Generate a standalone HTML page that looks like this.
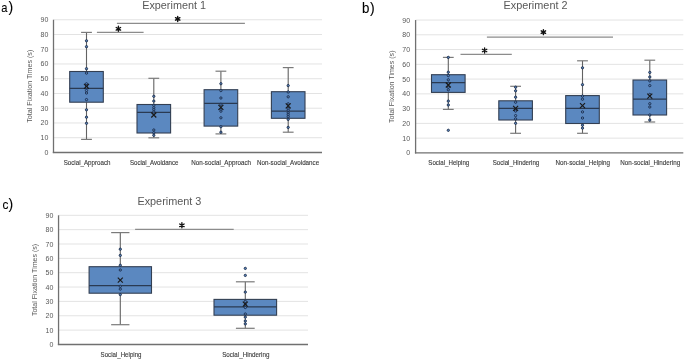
<!DOCTYPE html>
<html><head><meta charset="utf-8"><title>Experiments</title>
<style>html,body{margin:0;padding:0;background:#fff;width:685px;height:360px;overflow:hidden}svg{display:block;will-change:transform;filter:blur(0.3px)}text{font-family:"Liberation Sans", sans-serif}</style>
</head><body>
<svg width="685" height="360" viewBox="0 0 685 360" font-family='"Liberation Sans", sans-serif'>
<rect width="685" height="360" fill="#fff"/>
<line x1="53.5" y1="137.71" x2="322" y2="137.71" stroke="#e3e3e3" stroke-width="1"/>
<line x1="53.5" y1="122.96" x2="322" y2="122.96" stroke="#e3e3e3" stroke-width="1"/>
<line x1="53.5" y1="108.22" x2="322" y2="108.22" stroke="#e3e3e3" stroke-width="1"/>
<line x1="53.5" y1="93.47" x2="322" y2="93.47" stroke="#e3e3e3" stroke-width="1"/>
<line x1="53.5" y1="78.73" x2="322" y2="78.73" stroke="#e3e3e3" stroke-width="1"/>
<line x1="53.5" y1="63.98" x2="322" y2="63.98" stroke="#e3e3e3" stroke-width="1"/>
<line x1="53.5" y1="49.24" x2="322" y2="49.24" stroke="#e3e3e3" stroke-width="1"/>
<line x1="53.5" y1="34.49" x2="322" y2="34.49" stroke="#e3e3e3" stroke-width="1"/>
<line x1="53.5" y1="19.75" x2="322" y2="19.75" stroke="#e3e3e3" stroke-width="1"/>
<text x="48.30" y="154.95" text-anchor="end" font-size="7" fill="#585858">0</text>
<text x="48.30" y="140.21" text-anchor="end" font-size="7" fill="#585858">10</text>
<text x="48.30" y="125.46" text-anchor="end" font-size="7" fill="#585858">20</text>
<text x="48.30" y="110.72" text-anchor="end" font-size="7" fill="#585858">30</text>
<text x="48.30" y="95.97" text-anchor="end" font-size="7" fill="#585858">40</text>
<text x="48.30" y="81.23" text-anchor="end" font-size="7" fill="#585858">50</text>
<text x="48.30" y="66.48" text-anchor="end" font-size="7" fill="#585858">60</text>
<text x="48.30" y="51.74" text-anchor="end" font-size="7" fill="#585858">70</text>
<text x="48.30" y="36.99" text-anchor="end" font-size="7" fill="#585858">80</text>
<text x="48.30" y="22.25" text-anchor="end" font-size="7" fill="#585858">90</text>
<text transform="translate(32.20,86.20) rotate(-90)" x="0" y="0" text-anchor="middle" font-size="7.6" fill="#595959" textLength="73.00" lengthAdjust="spacingAndGlyphs">Total Fixation Times (s)</text>
<text x="174.10" y="8.70" text-anchor="middle" font-size="10.3" fill="#585858" textLength="63.80" lengthAdjust="spacingAndGlyphs">Experiment 1</text>
<text x="1.20" y="11.70" text-anchor="start" font-size="13.2" fill="#000" textLength="6.20" lengthAdjust="spacingAndGlyphs" stroke="#000" stroke-width="0.1">a</text>
<text x="8.60" y="11.70" text-anchor="start" font-size="14" fill="#000" stroke="#000" stroke-width="0.1">)</text>
<text x="87.10" y="164.80" text-anchor="middle" font-size="6.7" fill="#3a3a3a" textLength="46.80" lengthAdjust="spacingAndGlyphs" stroke="#3a3a3a" stroke-width="0.12">Social_Approach</text>
<text x="154.20" y="164.80" text-anchor="middle" font-size="6.7" fill="#3a3a3a" textLength="48.60" lengthAdjust="spacingAndGlyphs" stroke="#3a3a3a" stroke-width="0.12">Social_Avoidance</text>
<text x="221.15" y="164.80" text-anchor="middle" font-size="6.7" fill="#3a3a3a" textLength="59.90" lengthAdjust="spacingAndGlyphs" stroke="#3a3a3a" stroke-width="0.12">Non-social_Approach</text>
<text x="288.10" y="164.80" text-anchor="middle" font-size="6.7" fill="#3a3a3a" textLength="62.20" lengthAdjust="spacingAndGlyphs" stroke="#3a3a3a" stroke-width="0.12">Non-social_Avoidance</text>
<line x1="86.5" y1="32.4" x2="86.5" y2="71.5" stroke="#626262" stroke-width="1.1"/>
<line x1="86.5" y1="102.2" x2="86.5" y2="139.4" stroke="#626262" stroke-width="1.1"/>
<line x1="81.1" y1="32.4" x2="91.9" y2="32.4" stroke="#7a7a7a" stroke-width="1.2"/>
<line x1="81.1" y1="139.4" x2="91.9" y2="139.4" stroke="#7a7a7a" stroke-width="1.2"/>
<rect x="69.7" y="71.5" width="33.6" height="30.70" fill="#5b88c0" stroke="#333f52" stroke-width="1.1"/>
<line x1="69.7" y1="88.3" x2="103.3" y2="88.3" stroke="#2a3a52" stroke-width="1.3"/>
<circle cx="86.5" cy="40.8" r="1.15" fill="#5b88c0" stroke="#1a2a48" stroke-width="0.9"/>
<circle cx="86.5" cy="46.7" r="1.15" fill="#5b88c0" stroke="#1a2a48" stroke-width="0.9"/>
<circle cx="86.5" cy="68.7" r="1.15" fill="#5b88c0" stroke="#1a2a48" stroke-width="0.9"/>
<circle cx="86.5" cy="73.1" r="1.15" fill="#5b88c0" stroke="#1a2a48" stroke-width="0.9"/>
<circle cx="86.5" cy="83.8" r="1.15" fill="#5b88c0" stroke="#1a2a48" stroke-width="0.9"/>
<circle cx="86.5" cy="85.8" r="1.15" fill="#5b88c0" stroke="#1a2a48" stroke-width="0.9"/>
<circle cx="86.5" cy="87.6" r="1.15" fill="#5b88c0" stroke="#1a2a48" stroke-width="0.9"/>
<circle cx="86.5" cy="90.5" r="1.15" fill="#5b88c0" stroke="#1a2a48" stroke-width="0.9"/>
<circle cx="86.5" cy="93" r="1.15" fill="#5b88c0" stroke="#1a2a48" stroke-width="0.9"/>
<circle cx="86.5" cy="99.6" r="1.15" fill="#5b88c0" stroke="#1a2a48" stroke-width="0.9"/>
<circle cx="86.5" cy="109.8" r="1.15" fill="#5b88c0" stroke="#1a2a48" stroke-width="0.9"/>
<circle cx="86.5" cy="117.2" r="1.15" fill="#5b88c0" stroke="#1a2a48" stroke-width="0.9"/>
<circle cx="86.5" cy="123.3" r="1.15" fill="#5b88c0" stroke="#1a2a48" stroke-width="0.9"/>
<path d="M84.0 83.9L89.0 88.9M84.0 88.9L89.0 83.9" stroke="#1a1a1a" stroke-width="1.15"/>
<line x1="153.8" y1="78.3" x2="153.8" y2="104.5" stroke="#626262" stroke-width="1.1"/>
<line x1="153.8" y1="133" x2="153.8" y2="137.8" stroke="#626262" stroke-width="1.1"/>
<line x1="148.4" y1="78.3" x2="159.20000000000002" y2="78.3" stroke="#7a7a7a" stroke-width="1.2"/>
<line x1="148.4" y1="137.8" x2="159.20000000000002" y2="137.8" stroke="#7a7a7a" stroke-width="1.2"/>
<rect x="137.0" y="104.5" width="33.6" height="28.50" fill="#5b88c0" stroke="#333f52" stroke-width="1.1"/>
<line x1="137.0" y1="112.4" x2="170.60000000000002" y2="112.4" stroke="#2a3a52" stroke-width="1.3"/>
<circle cx="153.8" cy="96.3" r="1.15" fill="#5b88c0" stroke="#1a2a48" stroke-width="0.9"/>
<circle cx="153.8" cy="101.1" r="1.15" fill="#5b88c0" stroke="#1a2a48" stroke-width="0.9"/>
<circle cx="153.8" cy="105.3" r="1.15" fill="#5b88c0" stroke="#1a2a48" stroke-width="0.9"/>
<circle cx="153.8" cy="107.7" r="1.15" fill="#5b88c0" stroke="#1a2a48" stroke-width="0.9"/>
<circle cx="153.8" cy="109.7" r="1.15" fill="#5b88c0" stroke="#1a2a48" stroke-width="0.9"/>
<circle cx="153.8" cy="112" r="1.15" fill="#5b88c0" stroke="#1a2a48" stroke-width="0.9"/>
<circle cx="153.8" cy="130" r="1.15" fill="#5b88c0" stroke="#1a2a48" stroke-width="0.9"/>
<circle cx="153.8" cy="132.7" r="1.15" fill="#5b88c0" stroke="#1a2a48" stroke-width="0.9"/>
<circle cx="153.8" cy="135.3" r="1.15" fill="#5b88c0" stroke="#1a2a48" stroke-width="0.9"/>
<path d="M151.3 112.5L156.3 117.5M151.3 117.5L156.3 112.5" stroke="#1a1a1a" stroke-width="1.15"/>
<line x1="220.9" y1="71.2" x2="220.9" y2="89.7" stroke="#626262" stroke-width="1.1"/>
<line x1="220.9" y1="126.1" x2="220.9" y2="133.9" stroke="#626262" stroke-width="1.1"/>
<line x1="215.5" y1="71.2" x2="226.3" y2="71.2" stroke="#7a7a7a" stroke-width="1.2"/>
<line x1="215.5" y1="133.9" x2="226.3" y2="133.9" stroke="#7a7a7a" stroke-width="1.2"/>
<rect x="204.1" y="89.7" width="33.6" height="36.40" fill="#5b88c0" stroke="#333f52" stroke-width="1.1"/>
<line x1="204.1" y1="103.3" x2="237.70000000000002" y2="103.3" stroke="#2a3a52" stroke-width="1.3"/>
<circle cx="220.9" cy="83.7" r="1.15" fill="#5b88c0" stroke="#1a2a48" stroke-width="0.9"/>
<circle cx="220.9" cy="90.6" r="1.15" fill="#5b88c0" stroke="#1a2a48" stroke-width="0.9"/>
<circle cx="220.9" cy="98" r="1.15" fill="#5b88c0" stroke="#1a2a48" stroke-width="0.9"/>
<circle cx="220.9" cy="104.3" r="1.15" fill="#5b88c0" stroke="#1a2a48" stroke-width="0.9"/>
<circle cx="220.9" cy="109.4" r="1.15" fill="#5b88c0" stroke="#1a2a48" stroke-width="0.9"/>
<circle cx="220.9" cy="111.2" r="1.15" fill="#5b88c0" stroke="#1a2a48" stroke-width="0.9"/>
<circle cx="220.9" cy="117.8" r="1.15" fill="#5b88c0" stroke="#1a2a48" stroke-width="0.9"/>
<circle cx="220.9" cy="126.7" r="1.15" fill="#5b88c0" stroke="#1a2a48" stroke-width="0.9"/>
<circle cx="220.9" cy="132.2" r="1.15" fill="#5b88c0" stroke="#1a2a48" stroke-width="0.9"/>
<path d="M218.4 104.8L223.4 109.8M218.4 109.8L223.4 104.8" stroke="#1a1a1a" stroke-width="1.15"/>
<line x1="288.2" y1="67.6" x2="288.2" y2="91.7" stroke="#626262" stroke-width="1.1"/>
<line x1="288.2" y1="118.3" x2="288.2" y2="132.2" stroke="#626262" stroke-width="1.1"/>
<line x1="282.8" y1="67.6" x2="293.59999999999997" y2="67.6" stroke="#7a7a7a" stroke-width="1.2"/>
<line x1="282.8" y1="132.2" x2="293.59999999999997" y2="132.2" stroke="#7a7a7a" stroke-width="1.2"/>
<rect x="271.4" y="91.7" width="33.6" height="26.60" fill="#5b88c0" stroke="#333f52" stroke-width="1.1"/>
<line x1="271.4" y1="111.1" x2="305.0" y2="111.1" stroke="#2a3a52" stroke-width="1.3"/>
<circle cx="288.2" cy="85.6" r="1.15" fill="#5b88c0" stroke="#1a2a48" stroke-width="0.9"/>
<circle cx="288.2" cy="92" r="1.15" fill="#5b88c0" stroke="#1a2a48" stroke-width="0.9"/>
<circle cx="288.2" cy="96.8" r="1.15" fill="#5b88c0" stroke="#1a2a48" stroke-width="0.9"/>
<circle cx="288.2" cy="103.8" r="1.15" fill="#5b88c0" stroke="#1a2a48" stroke-width="0.9"/>
<circle cx="288.2" cy="108.5" r="1.15" fill="#5b88c0" stroke="#1a2a48" stroke-width="0.9"/>
<circle cx="288.2" cy="110.2" r="1.15" fill="#5b88c0" stroke="#1a2a48" stroke-width="0.9"/>
<circle cx="288.2" cy="112.8" r="1.15" fill="#5b88c0" stroke="#1a2a48" stroke-width="0.9"/>
<circle cx="288.2" cy="114.7" r="1.15" fill="#5b88c0" stroke="#1a2a48" stroke-width="0.9"/>
<circle cx="288.2" cy="116.7" r="1.15" fill="#5b88c0" stroke="#1a2a48" stroke-width="0.9"/>
<circle cx="288.2" cy="119.4" r="1.15" fill="#5b88c0" stroke="#1a2a48" stroke-width="0.9"/>
<circle cx="288.2" cy="127.4" r="1.15" fill="#5b88c0" stroke="#1a2a48" stroke-width="0.9"/>
<path d="M285.7 103.4L290.7 108.4M285.7 108.4L290.7 103.4" stroke="#1a1a1a" stroke-width="1.15"/>
<line x1="53.5" y1="19.75" x2="53.5" y2="153.04999999999998" stroke="#707070" stroke-width="1.3"/>
<line x1="52.8" y1="152.45" x2="322" y2="152.45" stroke="#707070" stroke-width="1.4"/>
<line x1="96.9" y1="32.4" x2="143.6" y2="32.4" stroke="#8c8c8c" stroke-width="1.2"/>
<path d="M118.40 26.25L118.40 31.35M116.19 27.53L120.61 30.07M120.61 27.53L116.19 30.07" stroke="#111" stroke-width="1.35" stroke-linecap="round" fill="none"/>
<line x1="116.9" y1="23.3" x2="244.9" y2="23.3" stroke="#8c8c8c" stroke-width="1.2"/>
<path d="M177.70 16.35L177.70 21.45M175.49 17.62L179.91 20.17M179.91 17.62L175.49 20.17" stroke="#111" stroke-width="1.35" stroke-linecap="round" fill="none"/>
<line x1="415.6" y1="138.14" x2="683.3" y2="138.14" stroke="#e3e3e3" stroke-width="1"/>
<line x1="415.6" y1="123.38" x2="683.3" y2="123.38" stroke="#e3e3e3" stroke-width="1"/>
<line x1="415.6" y1="108.62" x2="683.3" y2="108.62" stroke="#e3e3e3" stroke-width="1"/>
<line x1="415.6" y1="93.86" x2="683.3" y2="93.86" stroke="#e3e3e3" stroke-width="1"/>
<line x1="415.6" y1="79.09" x2="683.3" y2="79.09" stroke="#e3e3e3" stroke-width="1"/>
<line x1="415.6" y1="64.33" x2="683.3" y2="64.33" stroke="#e3e3e3" stroke-width="1"/>
<line x1="415.6" y1="49.57" x2="683.3" y2="49.57" stroke="#e3e3e3" stroke-width="1"/>
<line x1="415.6" y1="34.81" x2="683.3" y2="34.81" stroke="#e3e3e3" stroke-width="1"/>
<line x1="415.6" y1="20.05" x2="683.3" y2="20.05" stroke="#e3e3e3" stroke-width="1"/>
<text x="410.10" y="155.40" text-anchor="end" font-size="7" fill="#585858">0</text>
<text x="410.10" y="140.64" text-anchor="end" font-size="7" fill="#585858">10</text>
<text x="410.10" y="125.88" text-anchor="end" font-size="7" fill="#585858">20</text>
<text x="410.10" y="111.12" text-anchor="end" font-size="7" fill="#585858">30</text>
<text x="410.10" y="96.36" text-anchor="end" font-size="7" fill="#585858">40</text>
<text x="410.10" y="81.59" text-anchor="end" font-size="7" fill="#585858">50</text>
<text x="410.10" y="66.83" text-anchor="end" font-size="7" fill="#585858">60</text>
<text x="410.10" y="52.07" text-anchor="end" font-size="7" fill="#585858">70</text>
<text x="410.10" y="37.31" text-anchor="end" font-size="7" fill="#585858">80</text>
<text x="410.10" y="22.55" text-anchor="end" font-size="7" fill="#585858">90</text>
<text transform="translate(394.00,86.75) rotate(-90)" x="0" y="0" text-anchor="middle" font-size="7.6" fill="#595959" textLength="72.50" lengthAdjust="spacingAndGlyphs">Total Fixation Times (s)</text>
<text x="535.50" y="8.80" text-anchor="middle" font-size="10.3" fill="#585858" textLength="64.00" lengthAdjust="spacingAndGlyphs">Experiment 2</text>
<text x="362.00" y="12.70" text-anchor="start" font-size="14" fill="#000" textLength="7.40" lengthAdjust="spacingAndGlyphs" stroke="#000" stroke-width="0.1">b</text>
<text x="369.90" y="12.70" text-anchor="start" font-size="14" fill="#000" stroke="#000" stroke-width="0.1">)</text>
<text x="448.80" y="164.90" text-anchor="middle" font-size="6.7" fill="#3a3a3a" textLength="41.00" lengthAdjust="spacingAndGlyphs" stroke="#3a3a3a" stroke-width="0.12">Social_Helping</text>
<text x="516.00" y="164.90" text-anchor="middle" font-size="6.7" fill="#3a3a3a" textLength="46.60" lengthAdjust="spacingAndGlyphs" stroke="#3a3a3a" stroke-width="0.12">Social_Hindering</text>
<text x="582.80" y="164.90" text-anchor="middle" font-size="6.7" fill="#3a3a3a" textLength="54.40" lengthAdjust="spacingAndGlyphs" stroke="#3a3a3a" stroke-width="0.12">Non-social_Helping</text>
<text x="650.30" y="164.90" text-anchor="middle" font-size="6.7" fill="#3a3a3a" textLength="60.00" lengthAdjust="spacingAndGlyphs" stroke="#3a3a3a" stroke-width="0.12">Non-social_Hindering</text>
<line x1="448.3" y1="57.4" x2="448.3" y2="74.7" stroke="#626262" stroke-width="1.1"/>
<line x1="448.3" y1="92.4" x2="448.3" y2="109.4" stroke="#626262" stroke-width="1.1"/>
<line x1="442.90000000000003" y1="57.4" x2="453.7" y2="57.4" stroke="#7a7a7a" stroke-width="1.2"/>
<line x1="442.90000000000003" y1="109.4" x2="453.7" y2="109.4" stroke="#7a7a7a" stroke-width="1.2"/>
<rect x="431.5" y="74.7" width="33.6" height="17.70" fill="#5b88c0" stroke="#333f52" stroke-width="1.1"/>
<line x1="431.5" y1="82.6" x2="465.1" y2="82.6" stroke="#2a3a52" stroke-width="1.3"/>
<circle cx="448.3" cy="57.4" r="1.15" fill="#5b88c0" stroke="#1a2a48" stroke-width="0.9"/>
<circle cx="448.3" cy="72.2" r="1.15" fill="#5b88c0" stroke="#1a2a48" stroke-width="0.9"/>
<circle cx="448.3" cy="75.6" r="1.15" fill="#5b88c0" stroke="#1a2a48" stroke-width="0.9"/>
<circle cx="448.3" cy="79.8" r="1.15" fill="#5b88c0" stroke="#1a2a48" stroke-width="0.9"/>
<circle cx="448.3" cy="83.3" r="1.15" fill="#5b88c0" stroke="#1a2a48" stroke-width="0.9"/>
<circle cx="448.3" cy="87.2" r="1.15" fill="#5b88c0" stroke="#1a2a48" stroke-width="0.9"/>
<circle cx="448.3" cy="89.8" r="1.15" fill="#5b88c0" stroke="#1a2a48" stroke-width="0.9"/>
<circle cx="448.3" cy="101.1" r="1.15" fill="#5b88c0" stroke="#1a2a48" stroke-width="0.9"/>
<circle cx="448.3" cy="105" r="1.15" fill="#5b88c0" stroke="#1a2a48" stroke-width="0.9"/>
<circle cx="448.3" cy="130.3" r="1.15" fill="#5b88c0" stroke="#1a2a48" stroke-width="0.9"/>
<path d="M445.8 82.5L450.8 87.5M445.8 87.5L450.8 82.5" stroke="#1a1a1a" stroke-width="1.15"/>
<line x1="515.6" y1="86.3" x2="515.6" y2="100.8" stroke="#626262" stroke-width="1.1"/>
<line x1="515.6" y1="120" x2="515.6" y2="133.3" stroke="#626262" stroke-width="1.1"/>
<line x1="510.20000000000005" y1="86.3" x2="521.0" y2="86.3" stroke="#7a7a7a" stroke-width="1.2"/>
<line x1="510.20000000000005" y1="133.3" x2="521.0" y2="133.3" stroke="#7a7a7a" stroke-width="1.2"/>
<rect x="498.8" y="100.8" width="33.6" height="19.20" fill="#5b88c0" stroke="#333f52" stroke-width="1.1"/>
<line x1="498.8" y1="108.3" x2="532.4" y2="108.3" stroke="#2a3a52" stroke-width="1.3"/>
<circle cx="515.6" cy="87.2" r="1.15" fill="#5b88c0" stroke="#1a2a48" stroke-width="0.9"/>
<circle cx="515.6" cy="90.8" r="1.15" fill="#5b88c0" stroke="#1a2a48" stroke-width="0.9"/>
<circle cx="515.6" cy="97.2" r="1.15" fill="#5b88c0" stroke="#1a2a48" stroke-width="0.9"/>
<circle cx="515.6" cy="102.2" r="1.15" fill="#5b88c0" stroke="#1a2a48" stroke-width="0.9"/>
<circle cx="515.6" cy="110" r="1.15" fill="#5b88c0" stroke="#1a2a48" stroke-width="0.9"/>
<circle cx="515.6" cy="111.1" r="1.15" fill="#5b88c0" stroke="#1a2a48" stroke-width="0.9"/>
<circle cx="515.6" cy="115.6" r="1.15" fill="#5b88c0" stroke="#1a2a48" stroke-width="0.9"/>
<circle cx="515.6" cy="118.9" r="1.15" fill="#5b88c0" stroke="#1a2a48" stroke-width="0.9"/>
<circle cx="515.6" cy="123.3" r="1.15" fill="#5b88c0" stroke="#1a2a48" stroke-width="0.9"/>
<path d="M513.1 105.8L518.1 110.8M513.1 110.8L518.1 105.8" stroke="#1a1a1a" stroke-width="1.15"/>
<line x1="582.5" y1="60.8" x2="582.5" y2="95.6" stroke="#626262" stroke-width="1.1"/>
<line x1="582.5" y1="123.5" x2="582.5" y2="133.3" stroke="#626262" stroke-width="1.1"/>
<line x1="577.1" y1="60.8" x2="587.9" y2="60.8" stroke="#7a7a7a" stroke-width="1.2"/>
<line x1="577.1" y1="133.3" x2="587.9" y2="133.3" stroke="#7a7a7a" stroke-width="1.2"/>
<rect x="565.7" y="95.6" width="33.6" height="27.90" fill="#5b88c0" stroke="#333f52" stroke-width="1.1"/>
<line x1="565.7" y1="108.3" x2="599.3" y2="108.3" stroke="#2a3a52" stroke-width="1.3"/>
<circle cx="582.5" cy="67.8" r="1.15" fill="#5b88c0" stroke="#1a2a48" stroke-width="0.9"/>
<circle cx="582.5" cy="84.7" r="1.15" fill="#5b88c0" stroke="#1a2a48" stroke-width="0.9"/>
<circle cx="582.5" cy="96.1" r="1.15" fill="#5b88c0" stroke="#1a2a48" stroke-width="0.9"/>
<circle cx="582.5" cy="99.2" r="1.15" fill="#5b88c0" stroke="#1a2a48" stroke-width="0.9"/>
<circle cx="582.5" cy="111.9" r="1.15" fill="#5b88c0" stroke="#1a2a48" stroke-width="0.9"/>
<circle cx="582.5" cy="118" r="1.15" fill="#5b88c0" stroke="#1a2a48" stroke-width="0.9"/>
<circle cx="582.5" cy="125.2" r="1.15" fill="#5b88c0" stroke="#1a2a48" stroke-width="0.9"/>
<circle cx="582.5" cy="128.1" r="1.15" fill="#5b88c0" stroke="#1a2a48" stroke-width="0.9"/>
<path d="M580.0 103.1L585.0 108.1M580.0 108.1L585.0 103.1" stroke="#1a1a1a" stroke-width="1.15"/>
<line x1="649.8" y1="60.2" x2="649.8" y2="80" stroke="#626262" stroke-width="1.1"/>
<line x1="649.8" y1="115" x2="649.8" y2="122" stroke="#626262" stroke-width="1.1"/>
<line x1="644.4" y1="60.2" x2="655.1999999999999" y2="60.2" stroke="#7a7a7a" stroke-width="1.2"/>
<line x1="644.4" y1="122" x2="655.1999999999999" y2="122" stroke="#7a7a7a" stroke-width="1.2"/>
<rect x="633.0" y="80" width="33.6" height="35.00" fill="#5b88c0" stroke="#333f52" stroke-width="1.1"/>
<line x1="633.0" y1="99.2" x2="666.5999999999999" y2="99.2" stroke="#2a3a52" stroke-width="1.3"/>
<circle cx="649.8" cy="72.4" r="1.15" fill="#5b88c0" stroke="#1a2a48" stroke-width="0.9"/>
<circle cx="649.8" cy="77" r="1.15" fill="#5b88c0" stroke="#1a2a48" stroke-width="0.9"/>
<circle cx="649.8" cy="80.9" r="1.15" fill="#5b88c0" stroke="#1a2a48" stroke-width="0.9"/>
<circle cx="649.8" cy="85.6" r="1.15" fill="#5b88c0" stroke="#1a2a48" stroke-width="0.9"/>
<circle cx="649.8" cy="94.4" r="1.15" fill="#5b88c0" stroke="#1a2a48" stroke-width="0.9"/>
<circle cx="649.8" cy="103.7" r="1.15" fill="#5b88c0" stroke="#1a2a48" stroke-width="0.9"/>
<circle cx="649.8" cy="107" r="1.15" fill="#5b88c0" stroke="#1a2a48" stroke-width="0.9"/>
<circle cx="649.8" cy="115" r="1.15" fill="#5b88c0" stroke="#1a2a48" stroke-width="0.9"/>
<circle cx="649.8" cy="120" r="1.15" fill="#5b88c0" stroke="#1a2a48" stroke-width="0.9"/>
<path d="M647.3 93.6L652.3 98.6M647.3 98.6L652.3 93.6" stroke="#1a1a1a" stroke-width="1.15"/>
<line x1="415.6" y1="20.05" x2="415.6" y2="153.5" stroke="#707070" stroke-width="1.3"/>
<line x1="414.90000000000003" y1="152.9" x2="683.3" y2="152.9" stroke="#707070" stroke-width="1.4"/>
<line x1="460.5" y1="54.4" x2="511.8" y2="54.4" stroke="#8c8c8c" stroke-width="1.2"/>
<path d="M484.60 47.95L484.60 53.05M482.39 49.23L486.81 51.77M486.81 49.23L482.39 51.77" stroke="#111" stroke-width="1.35" stroke-linecap="round" fill="none"/>
<line x1="486.9" y1="37.1" x2="613" y2="37.1" stroke="#8c8c8c" stroke-width="1.2"/>
<path d="M543.40 29.55L543.40 34.65M541.19 30.83L545.61 33.38M545.61 30.83L541.19 33.38" stroke="#111" stroke-width="1.35" stroke-linecap="round" fill="none"/>
<line x1="58.55" y1="330.10" x2="308" y2="330.10" stroke="#e3e3e3" stroke-width="1"/>
<line x1="58.55" y1="315.75" x2="308" y2="315.75" stroke="#e3e3e3" stroke-width="1"/>
<line x1="58.55" y1="301.40" x2="308" y2="301.40" stroke="#e3e3e3" stroke-width="1"/>
<line x1="58.55" y1="287.05" x2="308" y2="287.05" stroke="#e3e3e3" stroke-width="1"/>
<line x1="58.55" y1="272.70" x2="308" y2="272.70" stroke="#e3e3e3" stroke-width="1"/>
<line x1="58.55" y1="258.35" x2="308" y2="258.35" stroke="#e3e3e3" stroke-width="1"/>
<line x1="58.55" y1="244.00" x2="308" y2="244.00" stroke="#e3e3e3" stroke-width="1"/>
<line x1="58.55" y1="229.65" x2="308" y2="229.65" stroke="#e3e3e3" stroke-width="1"/>
<line x1="58.55" y1="215.30" x2="308" y2="215.30" stroke="#e3e3e3" stroke-width="1"/>
<text x="53.30" y="346.95" text-anchor="end" font-size="7" fill="#585858">0</text>
<text x="53.30" y="332.60" text-anchor="end" font-size="7" fill="#585858">10</text>
<text x="53.30" y="318.25" text-anchor="end" font-size="7" fill="#585858">20</text>
<text x="53.30" y="303.90" text-anchor="end" font-size="7" fill="#585858">30</text>
<text x="53.30" y="289.55" text-anchor="end" font-size="7" fill="#585858">40</text>
<text x="53.30" y="275.20" text-anchor="end" font-size="7" fill="#585858">50</text>
<text x="53.30" y="260.85" text-anchor="end" font-size="7" fill="#585858">60</text>
<text x="53.30" y="246.50" text-anchor="end" font-size="7" fill="#585858">70</text>
<text x="53.30" y="232.15" text-anchor="end" font-size="7" fill="#585858">80</text>
<text x="53.30" y="217.80" text-anchor="end" font-size="7" fill="#585858">90</text>
<text transform="translate(36.90,280.00) rotate(-90)" x="0" y="0" text-anchor="middle" font-size="7.6" fill="#595959" textLength="72.20" lengthAdjust="spacingAndGlyphs">Total Fixation Times (s)</text>
<text x="169.40" y="204.60" text-anchor="middle" font-size="10.3" fill="#585858" textLength="64.00" lengthAdjust="spacingAndGlyphs">Experiment 3</text>
<text x="2.40" y="209.40" text-anchor="start" font-size="13.6" fill="#000" textLength="5.90" lengthAdjust="spacingAndGlyphs" stroke="#000" stroke-width="0.1">c</text>
<text x="8.60" y="209.40" text-anchor="start" font-size="14" fill="#000" stroke="#000" stroke-width="0.1">)</text>
<text x="121.05" y="357.40" text-anchor="middle" font-size="6.7" fill="#3a3a3a" textLength="40.90" lengthAdjust="spacingAndGlyphs" stroke="#3a3a3a" stroke-width="0.12">Social_Helping</text>
<text x="245.80" y="357.40" text-anchor="middle" font-size="6.7" fill="#3a3a3a" textLength="47.20" lengthAdjust="spacingAndGlyphs" stroke="#3a3a3a" stroke-width="0.12">Social_Hindering</text>
<line x1="120.3" y1="232.6" x2="120.3" y2="266.7" stroke="#626262" stroke-width="1.1"/>
<line x1="120.3" y1="293.2" x2="120.3" y2="324.7" stroke="#626262" stroke-width="1.1"/>
<line x1="111.14999999999999" y1="232.6" x2="129.45" y2="232.6" stroke="#7a7a7a" stroke-width="1.2"/>
<line x1="111.14999999999999" y1="324.7" x2="129.45" y2="324.7" stroke="#7a7a7a" stroke-width="1.2"/>
<rect x="89.1" y="266.7" width="62.4" height="26.50" fill="#5b88c0" stroke="#333f52" stroke-width="1.1"/>
<line x1="89.1" y1="285.6" x2="151.5" y2="285.6" stroke="#2a3a52" stroke-width="1.3"/>
<circle cx="120.3" cy="249.2" r="1.15" fill="#5b88c0" stroke="#1a2a48" stroke-width="0.9"/>
<circle cx="120.3" cy="255.4" r="1.15" fill="#5b88c0" stroke="#1a2a48" stroke-width="0.9"/>
<circle cx="120.3" cy="265.3" r="1.15" fill="#5b88c0" stroke="#1a2a48" stroke-width="0.9"/>
<circle cx="120.3" cy="270" r="1.15" fill="#5b88c0" stroke="#1a2a48" stroke-width="0.9"/>
<circle cx="120.3" cy="286.3" r="1.15" fill="#5b88c0" stroke="#1a2a48" stroke-width="0.9"/>
<circle cx="120.3" cy="289.1" r="1.15" fill="#5b88c0" stroke="#1a2a48" stroke-width="0.9"/>
<circle cx="120.3" cy="294.6" r="1.15" fill="#5b88c0" stroke="#1a2a48" stroke-width="0.9"/>
<path d="M117.8 277.6L122.8 282.6M117.8 282.6L122.8 277.6" stroke="#1a1a1a" stroke-width="1.15"/>
<line x1="245.3" y1="281.8" x2="245.3" y2="299.4" stroke="#626262" stroke-width="1.1"/>
<line x1="245.3" y1="315.2" x2="245.3" y2="328.3" stroke="#626262" stroke-width="1.1"/>
<line x1="235.9" y1="281.8" x2="254.70000000000002" y2="281.8" stroke="#7a7a7a" stroke-width="1.2"/>
<line x1="235.9" y1="328.3" x2="254.70000000000002" y2="328.3" stroke="#7a7a7a" stroke-width="1.2"/>
<rect x="214.0" y="299.4" width="62.6" height="15.80" fill="#5b88c0" stroke="#333f52" stroke-width="1.1"/>
<line x1="214.0" y1="306.9" x2="276.6" y2="306.9" stroke="#2a3a52" stroke-width="1.3"/>
<circle cx="245.3" cy="268.4" r="1.15" fill="#5b88c0" stroke="#1a2a48" stroke-width="0.9"/>
<circle cx="245.3" cy="275.4" r="1.15" fill="#5b88c0" stroke="#1a2a48" stroke-width="0.9"/>
<circle cx="245.3" cy="292.1" r="1.15" fill="#5b88c0" stroke="#1a2a48" stroke-width="0.9"/>
<circle cx="245.3" cy="301.4" r="1.15" fill="#5b88c0" stroke="#1a2a48" stroke-width="0.9"/>
<circle cx="245.3" cy="305" r="1.15" fill="#5b88c0" stroke="#1a2a48" stroke-width="0.9"/>
<circle cx="245.3" cy="307.5" r="1.15" fill="#5b88c0" stroke="#1a2a48" stroke-width="0.9"/>
<circle cx="245.3" cy="314" r="1.15" fill="#5b88c0" stroke="#1a2a48" stroke-width="0.9"/>
<circle cx="245.3" cy="317.1" r="1.15" fill="#5b88c0" stroke="#1a2a48" stroke-width="0.9"/>
<circle cx="245.3" cy="321" r="1.15" fill="#5b88c0" stroke="#1a2a48" stroke-width="0.9"/>
<circle cx="245.3" cy="323.9" r="1.15" fill="#5b88c0" stroke="#1a2a48" stroke-width="0.9"/>
<path d="M242.8 301.7L247.8 306.7M242.8 306.7L247.8 301.7" stroke="#1a1a1a" stroke-width="1.15"/>
<line x1="58.55" y1="215.3" x2="58.55" y2="345.05" stroke="#707070" stroke-width="1.3"/>
<line x1="57.849999999999994" y1="344.45" x2="308" y2="344.45" stroke="#707070" stroke-width="1.4"/>
<line x1="135.1" y1="229.3" x2="233.7" y2="229.3" stroke="#8c8c8c" stroke-width="1.2"/>
<path d="M181.90 222.75L181.90 227.85M179.69 224.03L184.11 226.58M184.11 224.03L179.69 226.58" stroke="#111" stroke-width="1.35" stroke-linecap="round" fill="none"/>
</svg>
</body></html>
